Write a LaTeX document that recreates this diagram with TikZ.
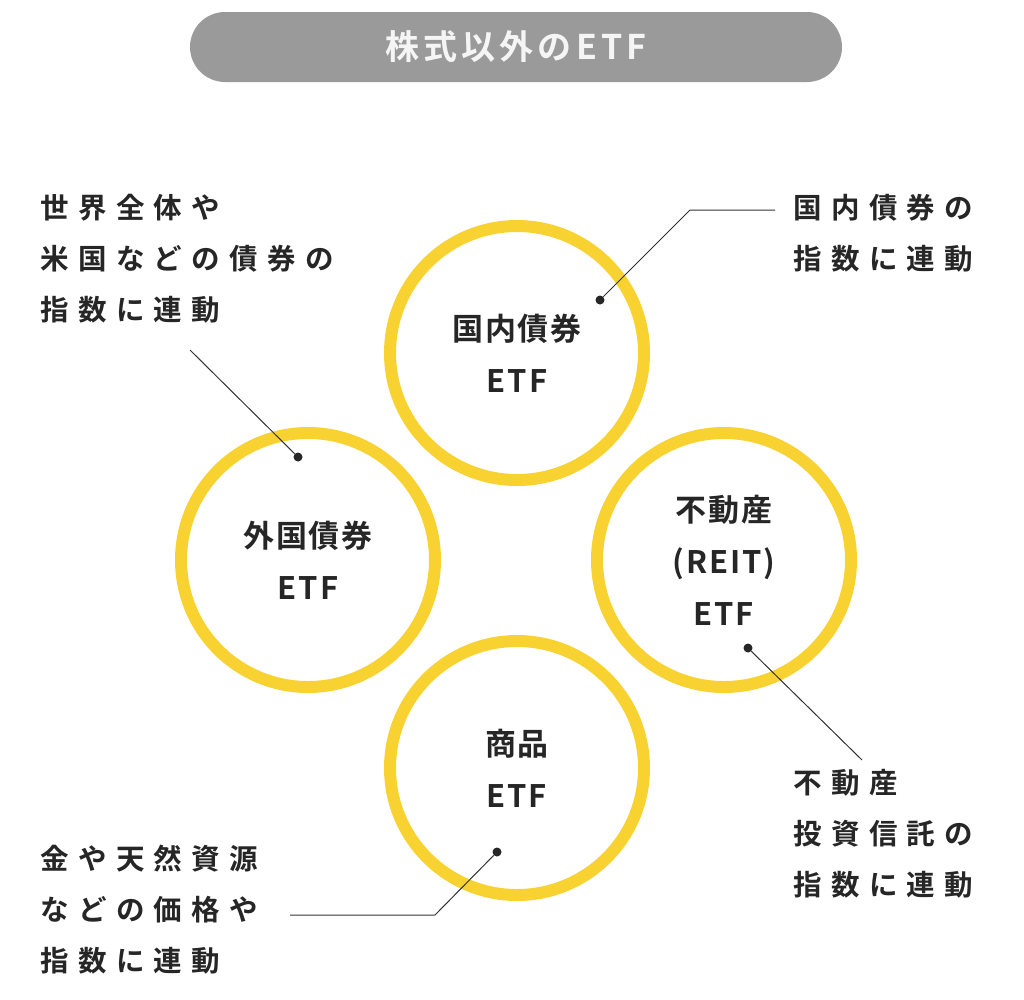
\documentclass[tikz,border=0pt]{standalone}
\usepackage{fontspec}
\newfontfamily\jp[LetterSpace=33]{Noto Sans CJK JP Bold}
\newfontfamily\jpb[LetterSpace=6]{Noto Sans CJK JP Bold}
\newfontfamily\jpt[LetterSpace=12]{Noto Sans CJK JP Bold}
\definecolor{ylw}{HTML}{F7D230}
\definecolor{gry}{HTML}{9A9A9A}
\begin{document}
\begin{tikzpicture}[x=1pt,y=-1pt,
  ring/.style={circle,draw=ylw,line width=12pt,minimum size=254pt,inner sep=0pt},
  inner/.style={align=center,font=\jpb\fontsize{31}{52}\selectfont,text=black!85},
  note/.style={anchor=north west,align=left,font=\jp\fontsize{28.5}{51}\selectfont,text=black!85,inner sep=0pt},
  lead/.style={draw=black!80,line width=1pt},
  dot/.style={circle,fill=black!85,inner sep=0pt,minimum size=9pt}]
\useasboundingbox (0,0) rectangle (1024,999);
\node[fill=gry,rounded corners=35pt,minimum width=652pt,minimum height=70pt,text=white!92!gray,font=\jpt\fontsize{34}{40}\selectfont] (title) at (516,47) {株式以外のETF};
\node[ring] (c1) at (517,353) {};
\node[ring] (c2) at (308,560) {};
\node[ring] (c3) at (724,560) {};
\node[ring] (c4) at (517,768) {};
\node[inner] at (c1) {国内債券\\ETF};
\node[inner] at (c2) {外国債券\\ETF};
\node[inner] at (c3) {不動産\\(REIT)\\ETF};
\node[inner] at (c4) {商品\\ETF};
\node[note] (n1) at (793,194) {国内債券の\\指数に連動};
\node[note] (n2) at (40,194) {世界全体や\\米国などの債券の\\指数に連動};
\node[note] (n3) at (793,769) {不動産\\投資信託の\\指数に連動};
\node[note] (n4) at (40,845) {金や天然資源\\などの価格や\\指数に連動};
\node[dot] (d1) at (600,300) {};
\node[dot] (d2) at (298,457) {};
\node[dot] (d3) at (748,648) {};
\node[dot] (d4) at (497,852) {};
\coordinate (e1) at (690,210); \coordinate (f1) at (775,210);
\coordinate (e2) at (190,350);
\coordinate (e3) at (862,760);
\coordinate (e4) at (435,915); \coordinate (f4) at (290,915);
\draw[lead] (d1) -- (e1) -- (f1);
\draw[lead] (d2) -- (e2);
\draw[lead] (d3) -- (e3);
\draw[lead] (d4) -- (e4) -- (f4);
\end{tikzpicture}
\end{document}
